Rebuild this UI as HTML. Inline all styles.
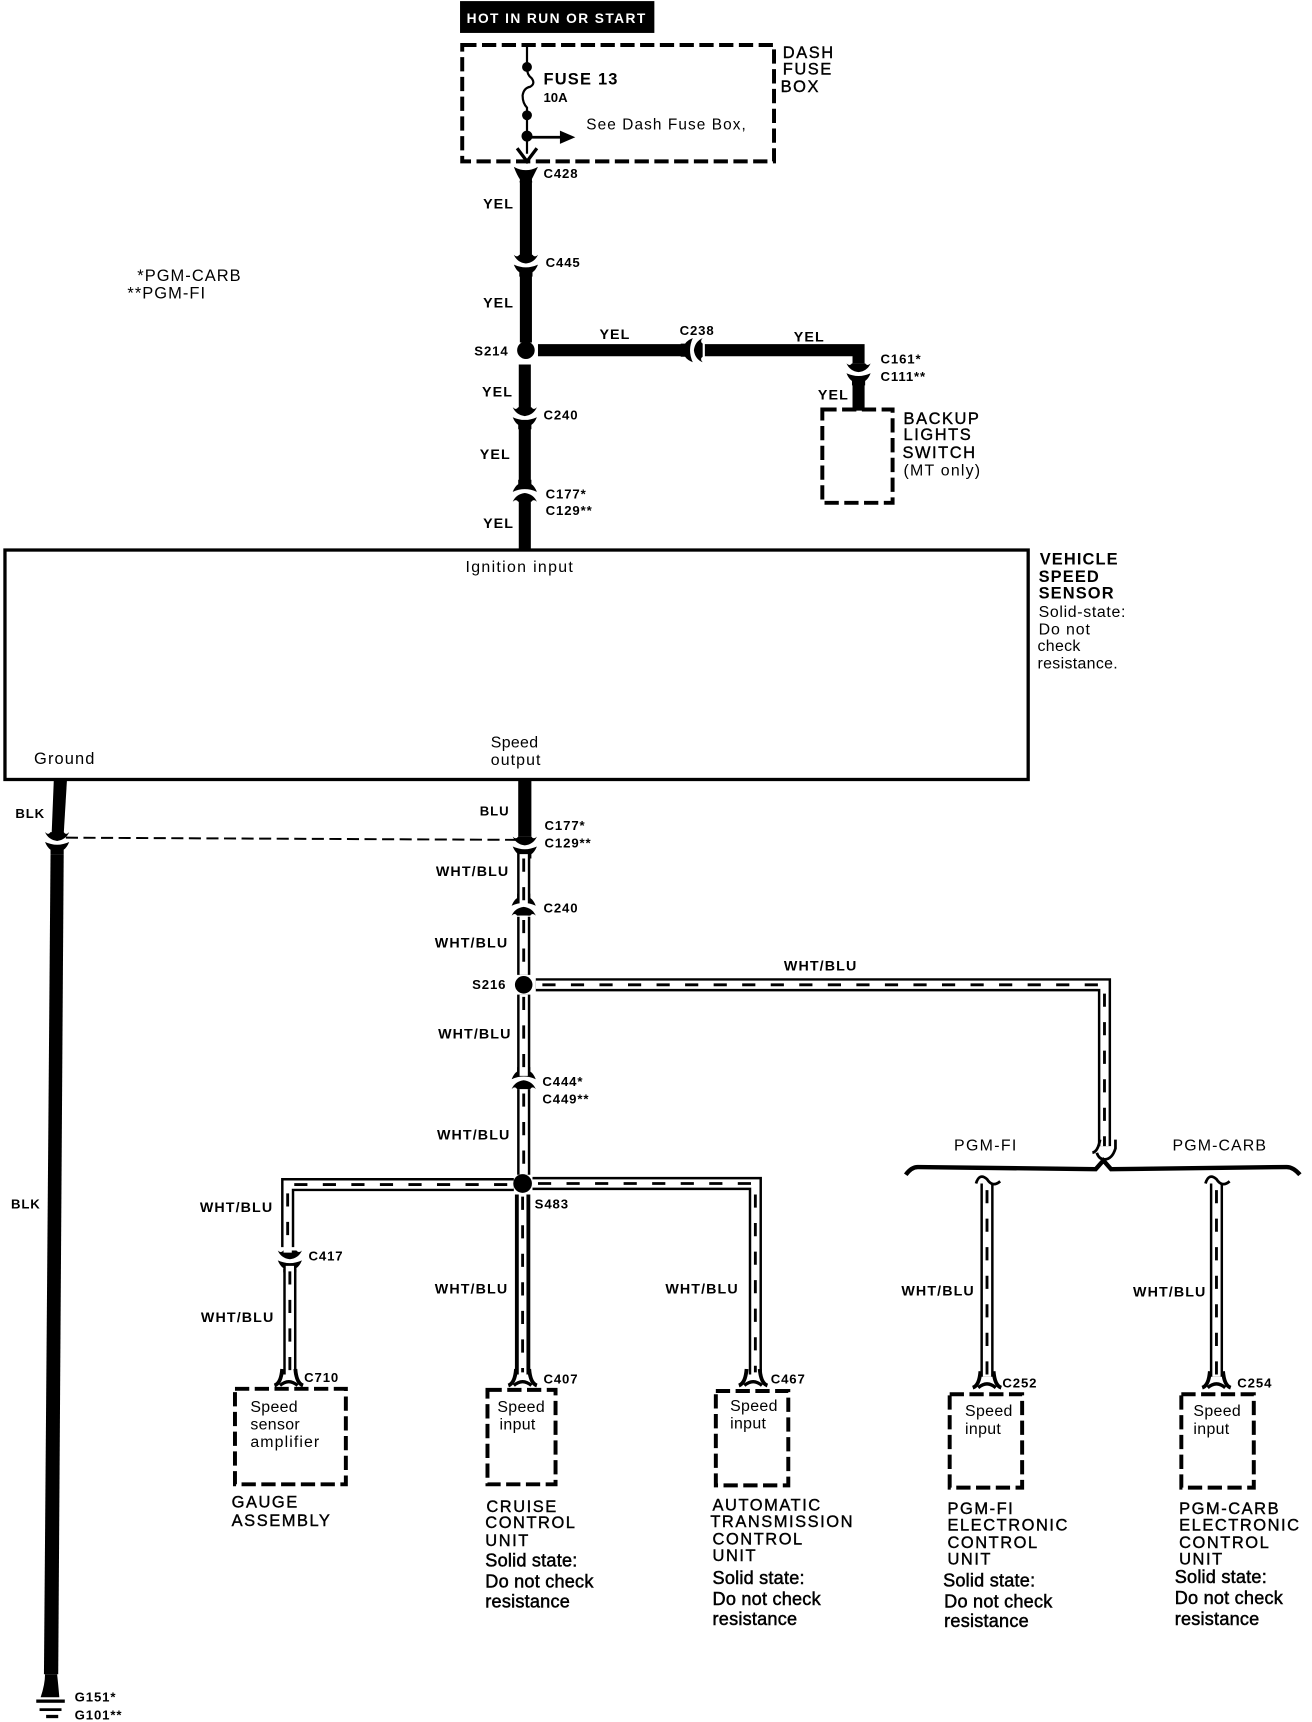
<!DOCTYPE html>
<html><head><meta charset="utf-8"><style>
html,body{margin:0;padding:0;background:#fff}
svg{display:block}
text{font-family:"Liberation Sans",sans-serif;fill:#000}
.c{font-size:12px;font-weight:bold;letter-spacing:.8px}
.w{font-size:13px;font-weight:bold;letter-spacing:1px}
.n{font-size:15px;letter-spacing:1.4px;stroke:#000;stroke-width:.35px}
.b{font-size:15px;font-weight:bold;letter-spacing:1px}
.s{font-size:14.5px;font-weight:normal;letter-spacing:.3px}
.d{font-size:16.5px;letter-spacing:.2px;stroke:#000;stroke-width:.45px}
.box{fill:none;stroke:#000;stroke-width:3.6;stroke-dasharray:13 5}
.o{fill:none;stroke:#000;stroke-width:12}
.i{fill:none;stroke:#fff;stroke-width:7.5}
.h{fill:none;stroke:#000;stroke-width:2.6;stroke-dasharray:12 14}
.o2{fill:none;stroke:#000;stroke-width:14}
.i2{fill:none;stroke:#fff;stroke-width:7}
.f{fill:none;stroke:#000;stroke-width:3.5}
</style></head><body>
<svg xmlns="http://www.w3.org/2000/svg" width="1312" height="1722" viewBox="0 0 1195 1568.5">
<defs>
<g id="cd">
<path d="M-11,-7 Q-8,-4 -6,-7 L6,-7 Q8,-4 11,-7 Q8,0 0,1 Q-8,0 -11,-7Z"/>
<path d="M-11,2 Q0,7 11,2 Q9,7 6,9 L6,13 L-6,13 L-6,9 Q-9,7 -11,2Z"/>
</g>
<g id="ft">
<path class="f" d="M-13,7 Q-7,5 -6,-8 M13,7 Q7,5 6,-8"/>
<path d="M-8,7 Q0,0 8,7" fill="none" stroke="#000" stroke-width="3"/>
</g>
</defs>

<!-- header -->
<rect x="419" y="1" width="177" height="29"/>
<text x="425" y="21" style="font-size:12.5px;font-weight:bold;letter-spacing:1.3px;fill:#fff">HOT IN RUN OR START</text>
<rect class="box" x="421" y="41" width="284" height="106"/>
<path d="M480,41V62 Q480,68 484,71 Q488,76 483,79 Q477,80 476,87 Q476,94 480,98V140" fill="none" stroke="#000" stroke-width="2"/>
<circle cx="480" cy="61" r="4.5"/><circle cx="480" cy="105" r="4.5"/><circle cx="480" cy="124" r="5"/>
<path d="M480,125H512" stroke="#000" stroke-width="2.5"/><path d="M510,119L524,125L510,131Z"/>
<path d="M471,135L480,147L489,135" fill="none" stroke="#000" stroke-width="3"/>
<text x="495" y="77" style="font-size:15px;font-weight:bold;letter-spacing:1.1px">FUSE 13</text>
<text x="495" y="93" style="font-size:12px;font-weight:bold">10A</text>
<text x="534" y="118" style="font-size:14px;letter-spacing:1px">See Dash Fuse Box,</text>
<text class="n" x="713" y="53">DASH</text><text class="n" x="713" y="68">FUSE</text><text class="n" x="711" y="84">BOX</text>

<!-- top main wire -->
<path d="M468,152 Q479,158 490,152 Q486,160 484,164 L485,166 L473,166 L474,164 Q471,160 468,152Z"/>
<path d="M479,160V234M479,246V312M478,332V373M478,384V444M478,455V501" stroke="#000" stroke-width="11" fill="none"/>
<use href="#cd" x="479" y="239"/>
<circle cx="479" cy="319" r="8"/>
<use href="#cd" x="478" y="378"/>
<use href="#cd" transform="translate(478,450) scale(1,-1)"/>
<text class="c" x="495" y="162">C428</text>
<text class="c" x="497" y="243">C445</text>
<text class="c" x="432" y="324">S214</text>
<text class="c" x="495" y="382">C240</text>
<text class="c" x="497" y="454">C177*</text>
<text class="c" x="497" y="469">C129**</text>
<text class="w" x="440" y="190">YEL</text><text class="w" x="440" y="280">YEL</text>
<text class="w" x="439" y="361">YEL</text><text class="w" x="437" y="418">YEL</text><text class="w" x="440" y="481">YEL</text>

<!-- branch -->
<path d="M490,319H624M642,319H782V331M782,345V374" stroke="#000" stroke-width="11" fill="none"/>
<use href="#cd" transform="translate(633,319) rotate(-90) scale(1,-1)"/>
<use href="#cd" transform="translate(782,338)"/>
<text class="w" x="546" y="309">YEL</text><text class="c" x="619" y="305">C238</text><text class="w" x="723" y="311">YEL</text>
<text class="c" x="802" y="331">C161*</text><text class="c" x="802" y="347">C111**</text>
<text class="w" x="745" y="364">YEL</text>
<rect class="box" x="749" y="373" width="64" height="85"/>
<text class="n" x="823" y="386">BACKUP</text><text class="n" x="823" y="401">LIGHTS</text><text class="n" x="822" y="417">SWITCH</text>
<text class="s" x="823" y="433" style="letter-spacing:1.1px">(MT only)</text>

<text class="s" x="125" y="256" style="font-size:15px;letter-spacing:.95px">*PGM-CARB</text>
<text class="s" x="116" y="272" style="font-size:15px;letter-spacing:.95px">**PGM-FI</text>

<!-- vehicle speed sensor -->
<rect x="4.5" y="501" width="932" height="209" fill="none" stroke="#000" stroke-width="3"/>
<text class="s" x="424" y="521" style="letter-spacing:1.2px">Ignition input</text>
<text class="s" x="31" y="696" style="font-size:15px;letter-spacing:1px">Ground</text>
<text class="s" x="447" y="681">Speed</text><text class="s" x="447" y="697" style="letter-spacing:1px">output</text>
<text class="b" x="947" y="514">VEHICLE</text><text class="b" x="946" y="530">SPEED</text><text class="b" x="946" y="545">SENSOR</text>
<text class="s" x="946" y="562" style="letter-spacing:.6px">Solid-state:</text>
<text class="s" x="946" y="578" style="letter-spacing:.8px">Do not</text>
<text class="s" x="945" y="593">check</text>
<text class="s" x="945" y="609">resistance.</text>

<!-- BLK -->
<path d="M49,710H61L58,760H47Z"/>
<use href="#cd" x="52" y="765"/>
<path d="M46,778H58L53,1525H40Z"/>
<path d="M37,1546Q41,1534 41,1525H52Q53,1534 54,1546Z"/>
<rect x="33" y="1548" width="26" height="3"/>
<rect x="36" y="1556" width="20" height="2.5"/>
<rect x="42" y="1562" width="11" height="3"/>
<text class="c" x="14" y="745">BLK</text><text class="c" x="10" y="1101">BLK</text>
<text class="c" x="68" y="1550">G151*</text><text class="c" x="68" y="1566">G101**</text>
<path d="M60,763L472,765" stroke="#000" stroke-width="1.8" stroke-dasharray="11 5" fill="none"/>

<!-- BLU -->
<path d="M478,710V762" stroke="#000" stroke-width="12" fill="none"/>
<use href="#cd" x="478" y="769"/>
<text class="c" x="437" y="743">BLU</text>
<text class="c" x="496" y="756">C177*</text><text class="c" x="496" y="772">C129**</text>

<!-- WHT/BLU spine -->
<path class="o" d="M477,776V822M477,835V888M477,906V976M477,992V1070"/>
<use href="#cd" transform="translate(477,827) scale(1,-1)"/>
<use href="#cd" transform="translate(477,985) scale(1,-1)"/>
<path class="i" d="M477,778V823M477,834V888M477,906V980M477,992V1070"/>
<path class="h" d="M477,782V820M477,838V888M477,908V976M477,996V1070"/>
<circle cx="477" cy="897" r="8"/>
<text class="w" x="397" y="798">WHT/BLU</text>
<text class="c" x="495" y="831">C240</text>
<text class="w" x="396" y="863">WHT/BLU</text>
<text class="c" x="430" y="901">S216</text>
<text class="w" x="399" y="946">WHT/BLU</text>
<text class="c" x="494" y="989">C444*</text><text class="c" x="494" y="1005">C449**</text>
<text class="w" x="398" y="1038">WHT/BLU</text>

<!-- to PGM bus -->
<path class="o" d="M488,897H1006V1044"/>
<path class="i" d="M488,897H1006V1044"/>
<path class="h" d="M494,897H1006V1044"/>
<text class="w" x="714" y="884">WHT/BLU</text>
<path d="M995,1050Q1000,1049 1002,1038M1016,1038V1046Q1013,1056 1006,1056Q1001,1056 999,1050" fill="none" stroke="#000" stroke-width="2.5"/>
<path d="M825,1070Q830,1063 836,1063L998,1065L1005,1057L1012,1065L1172,1063Q1178,1063 1184,1070" fill="none" stroke="#000" stroke-width="4"/>
<text class="s" x="869" y="1048" style="font-size:14.5px;letter-spacing:1.2px">PGM-FI</text>
<text class="s" x="1068" y="1048" style="font-size:14.5px;letter-spacing:1px">PGM-CARB</text>

<!-- S483 branches -->
<path class="o" d="M468,1079H262V1136"/>
<use href="#cd" x="264" y="1146"/>
<path class="o" d="M264,1156V1252"/>
<path class="i" d="M468,1079H262V1141M264,1153V1252"/>
<path class="h" d="M462,1079H262V1138M264,1158V1250"/>
<use href="#ft" x="263" y="1255"/>

<path class="o" d="M485,1078H688V1252"/>
<path class="i" d="M485,1078H688V1252"/>
<path class="h" d="M490,1078H688V1250"/>
<use href="#ft" x="686" y="1255"/>

<path class="o2" d="M476,1088V1252"/>
<path class="i2" d="M476,1088V1252"/>
<path class="h" d="M476,1090V1250"/>
<use href="#ft" x="476" y="1255"/>
<circle cx="476" cy="1078" r="8.5"/>

<text class="c" x="487" y="1101">S483</text>
<text class="w" x="182" y="1104">WHT/BLU</text>
<text class="c" x="281" y="1148">C417</text>
<text class="w" x="183" y="1204">WHT/BLU</text>
<text class="c" x="277" y="1259">C710</text>
<text class="w" x="396" y="1178">WHT/BLU</text>
<text class="c" x="495" y="1260">C407</text>
<text class="w" x="606" y="1178">WHT/BLU</text>
<text class="c" x="702" y="1260">C467</text>

<!-- PGM drops -->
<path class="o" d="M899,1078V1254"/><path class="i" d="M899,1078V1254"/><path class="h" d="M899,1084V1254"/>
<path d="M889,1078Q892,1068 899,1074Q904,1082 911,1076" fill="none" stroke="#000" stroke-width="2.5"/>
<use href="#ft" x="899" y="1257"/>
<text class="w" x="821" y="1180">WHT/BLU</text><text class="c" x="913" y="1264">C252</text>

<path class="o" d="M1108,1078V1254"/><path class="i" d="M1108,1078V1254"/><path class="h" d="M1108,1084V1254"/>
<path d="M1098,1078Q1101,1068 1108,1074Q1113,1082 1120,1076" fill="none" stroke="#000" stroke-width="2.5"/>
<use href="#ft" x="1108" y="1257"/>
<text class="w" x="1032" y="1181">WHT/BLU</text><text class="c" x="1127" y="1264">C254</text>

<!-- component boxes -->
<rect class="box" x="214" y="1265" width="101" height="87"/>
<text class="s" x="228" y="1286">Speed</text><text class="s" x="228" y="1302">sensor</text><text class="s" x="228" y="1318" style="letter-spacing:1px">amplifier</text>
<text class="n" x="211" y="1373">GAUGE</text><text class="n" x="211" y="1390">ASSEMBLY</text>

<rect class="box" x="444" y="1266" width="62" height="86"/>
<text class="s" x="453" y="1286">Speed</text><text class="s" x="455" y="1302">input</text>
<text class="n" x="443" y="1377">CRUISE</text><text class="n" x="442" y="1392">CONTROL</text><text class="n" x="442" y="1408">UNIT</text>
<text class="d" x="442" y="1427">Solid state:</text><text class="d" x="442" y="1446">Do not check</text><text class="d" x="442" y="1464">resistance</text>

<rect class="box" x="652" y="1267" width="66" height="86"/>
<text class="s" x="665" y="1285">Speed</text><text class="s" x="665" y="1301">input</text>
<text class="n" x="649" y="1376">AUTOMATIC</text><text class="n" x="647" y="1391">TRANSMISSION</text><text class="n" x="649" y="1407">CONTROL</text><text class="n" x="649" y="1422">UNIT</text>
<text class="d" x="649" y="1443">Solid state:</text><text class="d" x="649" y="1462">Do not check</text><text class="d" x="649" y="1480">resistance</text>

<rect class="box" x="865" y="1270" width="66" height="85"/>
<text class="s" x="879" y="1290">Speed</text><text class="s" x="879" y="1306">input</text>
<text class="n" x="863" y="1379">PGM-FI</text><text class="n" x="863" y="1394">ELECTRONIC</text><text class="n" x="863" y="1410">CONTROL</text><text class="n" x="863" y="1425">UNIT</text>
<text class="d" x="859" y="1445">Solid state:</text><text class="d" x="860" y="1464">Do not check</text><text class="d" x="860" y="1482">resistance</text>

<rect class="box" x="1076" y="1270" width="66" height="85"/>
<text class="s" x="1087" y="1290">Speed</text><text class="s" x="1087" y="1306">input</text>
<text class="n" x="1074" y="1379">PGM-CARB</text><text class="n" x="1074" y="1394">ELECTRONIC</text><text class="n" x="1074" y="1410">CONTROL</text><text class="n" x="1074" y="1425">UNIT</text>
<text class="d" x="1070" y="1442">Solid state:</text><text class="d" x="1070" y="1461">Do not check</text><text class="d" x="1070" y="1480">resistance</text>
</svg>
</body></html>
